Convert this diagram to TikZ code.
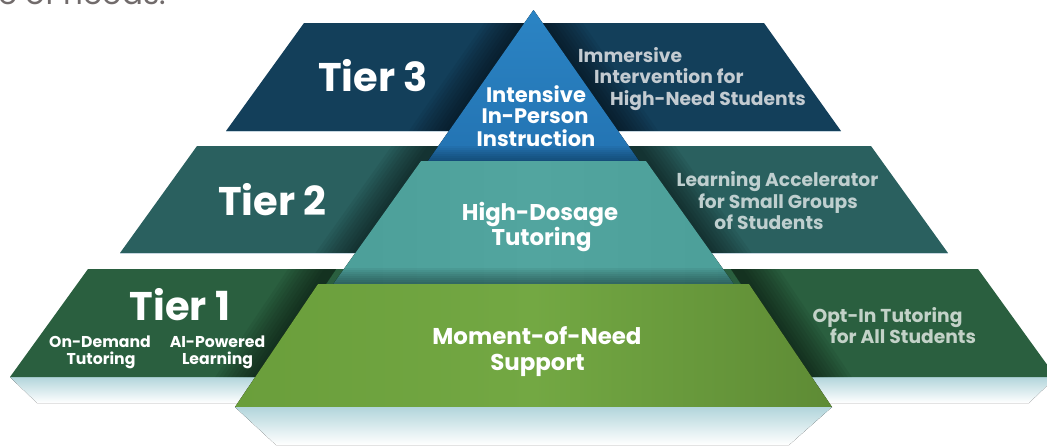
\documentclass[tikz,border=0pt]{standalone}
\usepackage{fontspec}
\setmainfont{Poppins}
\definecolor{tthree}{HTML}{133F5A}
\definecolor{ttwo}{HTML}{2A605F}
\definecolor{tone}{HTML}{2A5F3F}
\definecolor{pblue}{HTML}{2B84C4}
\definecolor{pbluedark}{HTML}{2373B2}
\definecolor{pteal}{HTML}{4C9F99}
\definecolor{ptealL}{HTML}{52A59F}
\definecolor{pgreen}{HTML}{6A9E3B}
\definecolor{pgreenL}{HTML}{73A843}
\definecolor{pgreenD}{HTML}{5E8B35}
\definecolor{refl}{HTML}{B2D5DB}
\definecolor{greyA}{HTML}{C3CBD1}
\definecolor{greyB}{HTML}{BFCFCF}
\definecolor{greyC}{HTML}{C3D2C8}
\definecolor{toptext}{HTML}{716B6B}
\definecolor{bandline}{HTML}{C6D6E0}
\newcommand\edgeshade[5]{%
  \foreach \w in {4,8,...,40}
    \fill[black,opacity=.055] ({#1+#5*\w},#2) -- ({#1-#5*8},#2) -- ({#3-#5*8},#4) -- ({#3+#5*\w},#4) -- cycle;}
\tikzset{
  tierlabel/.style={font=\bfseries\fontsize{40}{40}\selectfont, text=white, inner sep=0pt},
  midlabel/.style={font=\bfseries\fontsize{21}{21}\selectfont, text=white, inner sep=0pt},
  sidelabel/.style={font=\bfseries\fontsize{18.7}{18.7}\selectfont, inner sep=0pt},
  smalllabel/.style={font=\bfseries\fontsize{15.7}{15.7}\selectfont, text=white, inner sep=0pt},
}
\begin{document}
\begin{tikzpicture}[x=1pt,y=-1pt]
\useasboundingbox (0,0) rectangle (1047,445);
% cut-off heading text
\node[anchor=base east, inner sep=0pt, text=toptext, font=\fontsize{31}{31}\selectfont] (heading) at (166,4) {range of needs.};
% reflections
\fill[top color=refl, bottom color=white] (10,377) -- (320,377) -- (320,403) -- (37,403) -- cycle;
\fill[top color=refl, bottom color=white] (740,377) -- (1056,377) -- (1029,403) -- (740,403) -- cycle;
% bands
\fill[tthree] (304,23) -- (764,23) -- (841,131) -- (226,131) -- cycle;
\begin{scope}
  \clip (304,23) -- (764,23) -- (841,131) -- (226,131) -- cycle;
  \edgeshade{524.4}{23}{448.8}{131}{-1}
  \edgeshade{542.6}{23}{618.2}{131}{1}
\end{scope}
\draw[bandline, line width=1pt] (226,131.3) -- (841,131.3);
\fill[ttwo] (197,146) -- (871,146) -- (948,253) -- (120,253) -- cycle;
\begin{scope}
  \clip (197,146) -- (871,146) -- (948,253) -- (120,253) -- cycle;
  \edgeshade{431.7}{146}{355.4}{253}{-1}
  \edgeshade{635.3}{146}{711.6}{253}{1}
\end{scope}
\draw[bandline, line width=1pt] (120,253.3) -- (948,253.3);
\fill[tone] (88,269) -- (978,269) -- (1056,377) -- (10,377) -- cycle;
\begin{scope}
  \clip (88,269) -- (978,269) -- (1056,377) -- (10,377) -- cycle;
  \edgeshade{328.1}{269}{255.2}{377}{-1}
  \edgeshade{738.9}{269}{811.8}{377}{1}
\end{scope}
% pyramid: top triangle
\fill[top color=pblue, bottom color=pbluedark] (533.5,10) -- (640.5,163) -- (426.5,163) -- cycle;
\begin{scope}
  \clip (533.5,10) -- (640.5,163) -- (426.5,163) -- cycle;
  \foreach \k in {0,...,7}
    \fill[black,opacity=.045] (400,{146+\k*2}) rectangle (700,163);
\end{scope}
% middle trapezoid
\fill[left color=pteal, right color=pteal, middle color=ptealL] (421,161) -- (646,161) -- (734.5,285) -- (332.5,285) -- cycle;
\begin{scope}
  \clip (421,161) -- (646,161) -- (734.5,285) -- (332.5,285) -- cycle;
  \foreach \k in {0,...,7}
    \fill[black,opacity=.05] (300,{268+\k*2}) rectangle (760,285);
\end{scope}
% bottom trapezoid
\fill[left color=pgreen, right color=pgreenD, middle color=pgreenL] (318,284) -- (749,284) -- (832,407) -- (235,407) -- cycle;
% reflection under the pyramid
\fill[top color=refl, bottom color=white] (235,407) -- (832,407) -- (789,445) -- (276,445) -- cycle;
% tier labels
\node[tierlabel, anchor=base] (t3) at (373,91) {Tier 3};
\node[tierlabel, anchor=base] (t2) at (272.5,215) {Tier 2};
\node[tierlabel, anchor=base] (t1) at (180,320) {Tier 1};
% pyramid labels
\node[midlabel, anchor=base] (i1) at (536,102) {Intensive};
\node[midlabel, anchor=base] (i2) at (535,123) {In-Person};
\node[midlabel, anchor=base] (i3) at (536,146) {Instruction};
\node[midlabel, font=\bfseries\fontsize{22.8}{22.8}\selectfont, anchor=base] (h1) at (540,220) {High-Dosage};
\node[midlabel, font=\bfseries\fontsize{22.8}{22.8}\selectfont, anchor=base] (h2) at (541.5,245) {Tutoring};
\node[midlabel, font=\bfseries\fontsize{22.9}{22.9}\selectfont, anchor=base] (m1) at (537,344) {Moment-of-Need};
\node[midlabel, font=\bfseries\fontsize{22.9}{22.9}\selectfont, anchor=base] (m2) at (537.5,370) {Support};
% right side labels
\node[sidelabel, text=greyA, anchor=base west] (r31) at (578,62) {Immersive};
\node[sidelabel, text=greyA, anchor=base west] (r32) at (594,83) {Intervention for};
\node[sidelabel, text=greyA, anchor=base west] (r33) at (610,105) {High-Need Students};
\node[sidelabel, text=greyB, anchor=base] (r21) at (777.5,186) {Learning Accelerator};
\node[sidelabel, text=greyB, anchor=base] (r22) at (778,208) {for Small Groups};
\node[sidelabel, text=greyB, anchor=base] (r23) at (769,229) {of Students};
\node[sidelabel, text=greyC, anchor=base] (r11) at (887.5,322) {Opt-In Tutoring};
\node[sidelabel, text=greyC, anchor=base] (r12) at (903,343) {for All Students};
% tier 1 left labels
\node[smalllabel, anchor=base] (l1) at (100,347) {On-Demand};
\node[smalllabel, anchor=base] (l2) at (101,364) {Tutoring};
\node[smalllabel, anchor=base] (l3) at (217.5,347) {AI-Powered};
\node[smalllabel, anchor=base] (l4) at (217.5,364) {Learning};
\end{tikzpicture}
\end{document}
